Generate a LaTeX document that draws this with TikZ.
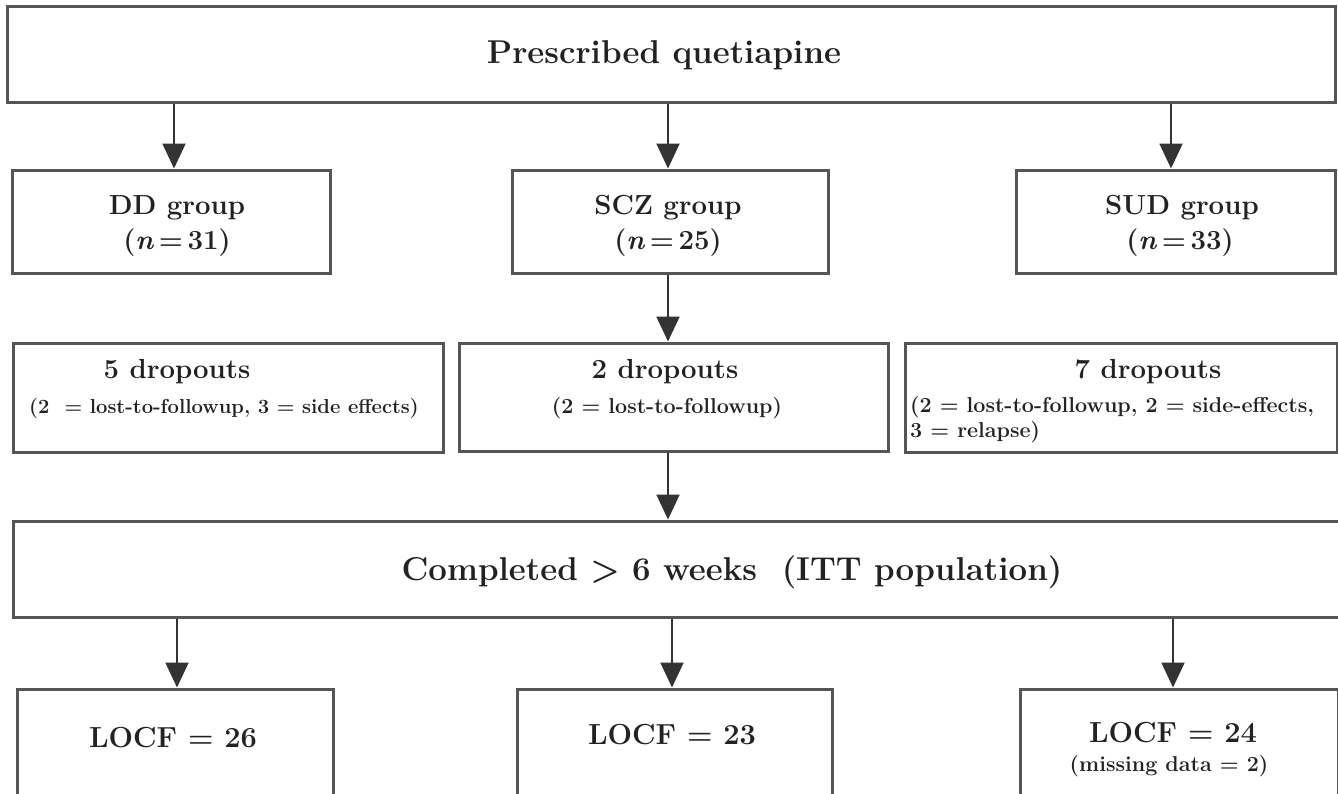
\documentclass[tikz,border=0pt]{standalone}
\usetikzlibrary{arrows.meta}
\definecolor{boxgray}{HTML}{555555}
\definecolor{arrgray}{HTML}{333333}
\definecolor{txt}{HTML}{222222}
\newcommand{\fsz}[1]{\fontsize{#1}{#1}\selectfont}
\begin{document}
\begin{tikzpicture}[x=1pt,y=-1pt,
  box/.style={draw=boxgray,line width=3pt,fill=white,inner sep=0pt},
  arr/.style={draw=arrgray,line width=2pt,-{Triangle[width=23pt,length=25pt]}},
  big/.style={text=txt,inner sep=0pt,font=\bfseries\fsz{33}},
  mid/.style={text=txt,inner sep=0pt,font=\bfseries\fsz{27.6}},
  small/.style={text=txt,inner sep=0pt,font=\bfseries\fsz{21.5}}]
\useasboundingbox (0,0) rectangle (1338,793);
\clip (0,0) rectangle (1338,793);
% boxes
\node[box,minimum width=1328pt,minimum height=96pt] (top) at (671,54) {};
\node[box,minimum width=318pt,minimum height=103pt] (dd) at (171,221.5) {};
\node[box,minimum width=316pt,minimum height=103pt] (scz) at (670,221.5) {};
\node[box,minimum width=319pt,minimum height=103pt] (sud) at (1175.5,221.5) {};
\node[box,minimum width=430pt,minimum height=109pt] (ddo) at (228,397.5) {};
\node[box,minimum width=429pt,minimum height=108pt] (sczo) at (673.5,397) {};
\node[box,minimum width=432pt,minimum height=109pt] (sudo) at (1121,397.5) {};
\node[box,minimum width=1326pt,minimum height=96pt] (comp) at (676,569) {};
\node[box,minimum width=316pt,minimum height=140pt] (l1) at (175,759) {};
\node[box,minimum width=315pt,minimum height=140pt] (l2) at (674.5,759) {};
\node[box,minimum width=318pt,minimum height=140pt] (l3) at (1179,759) {};
% texts
\node[big] (t0) at (664,55) {Prescribed quetiapine};
\node[mid] (t1) at (177,208) {DD group};
\node[mid] (t1b) at (177,243) {(\textit{n}\,=\,31)};
\node[mid] (t2) at (668,208) {SCZ group};
\node[mid] (t2b) at (668,243) {(\textit{n}\,=\,25)};
\node[mid] (t3) at (1182,208) {SUD group};
\node[mid] (t3b) at (1180,243) {(\textit{n}\,=\,33)};
\node[mid] (d1) at (177,372) {5 dropouts};
\node[small,font=\bfseries\fsz{20.2}] (d1b) at (224,408) {(2 \ = lost-to-followup, 3 = side effects)};
\node[mid] (d2) at (665,372) {2 dropouts};
\node[small] (d2b) at (667,408) {(2 = lost-to-followup)};
\node[mid] (d3) at (1148,372) {7 dropouts};
\node[small,anchor=west] (d3b) at (910,407) {(2 = lost-to-followup, 2 = side-effects,};
\node[small,anchor=west] (d3c) at (910,432) {3 = relapse)};
\node[big] (c0) at (732,572) {Completed \textgreater{} 6 weeks \ (ITT population)};
\node[mid,font=\bfseries\fsz{29}] (r1) at (173,738) {LOCF = 26};
\node[mid,font=\bfseries\fsz{29}] (r2) at (672,735) {LOCF = 23};
\node[mid,font=\bfseries\fsz{29}] (r3) at (1173,733) {LOCF = 24};
\node[small] (r3b) at (1169,766) {(missing data = 2)};
% arrows
\coordinate (xa) at (174,0);
\coordinate (xb) at (668,0);
\coordinate (xc) at (1171,0);
\coordinate (xd) at (177,0);
\coordinate (xe) at (672,0);
\coordinate (xf) at (1173,0);
\draw[arr] (top.south -| xa) -- (dd.north -| xa);
\draw[arr] (top.south -| xb) -- (scz.north -| xb);
\draw[arr] (top.south -| xc) -- (sud.north -| xc);
\draw[arr] (scz.south -| xb) -- (sczo.north -| xb);
\draw[arr] (sczo.south -| xb) -- (comp.north -| xb);
\draw[arr] (comp.south -| xd) -- (l1.north -| xd);
\draw[arr] (comp.south -| xe) -- (l2.north -| xe);
\draw[arr] (comp.south -| xf) -- (l3.north -| xf);
\end{tikzpicture}
\end{document}
